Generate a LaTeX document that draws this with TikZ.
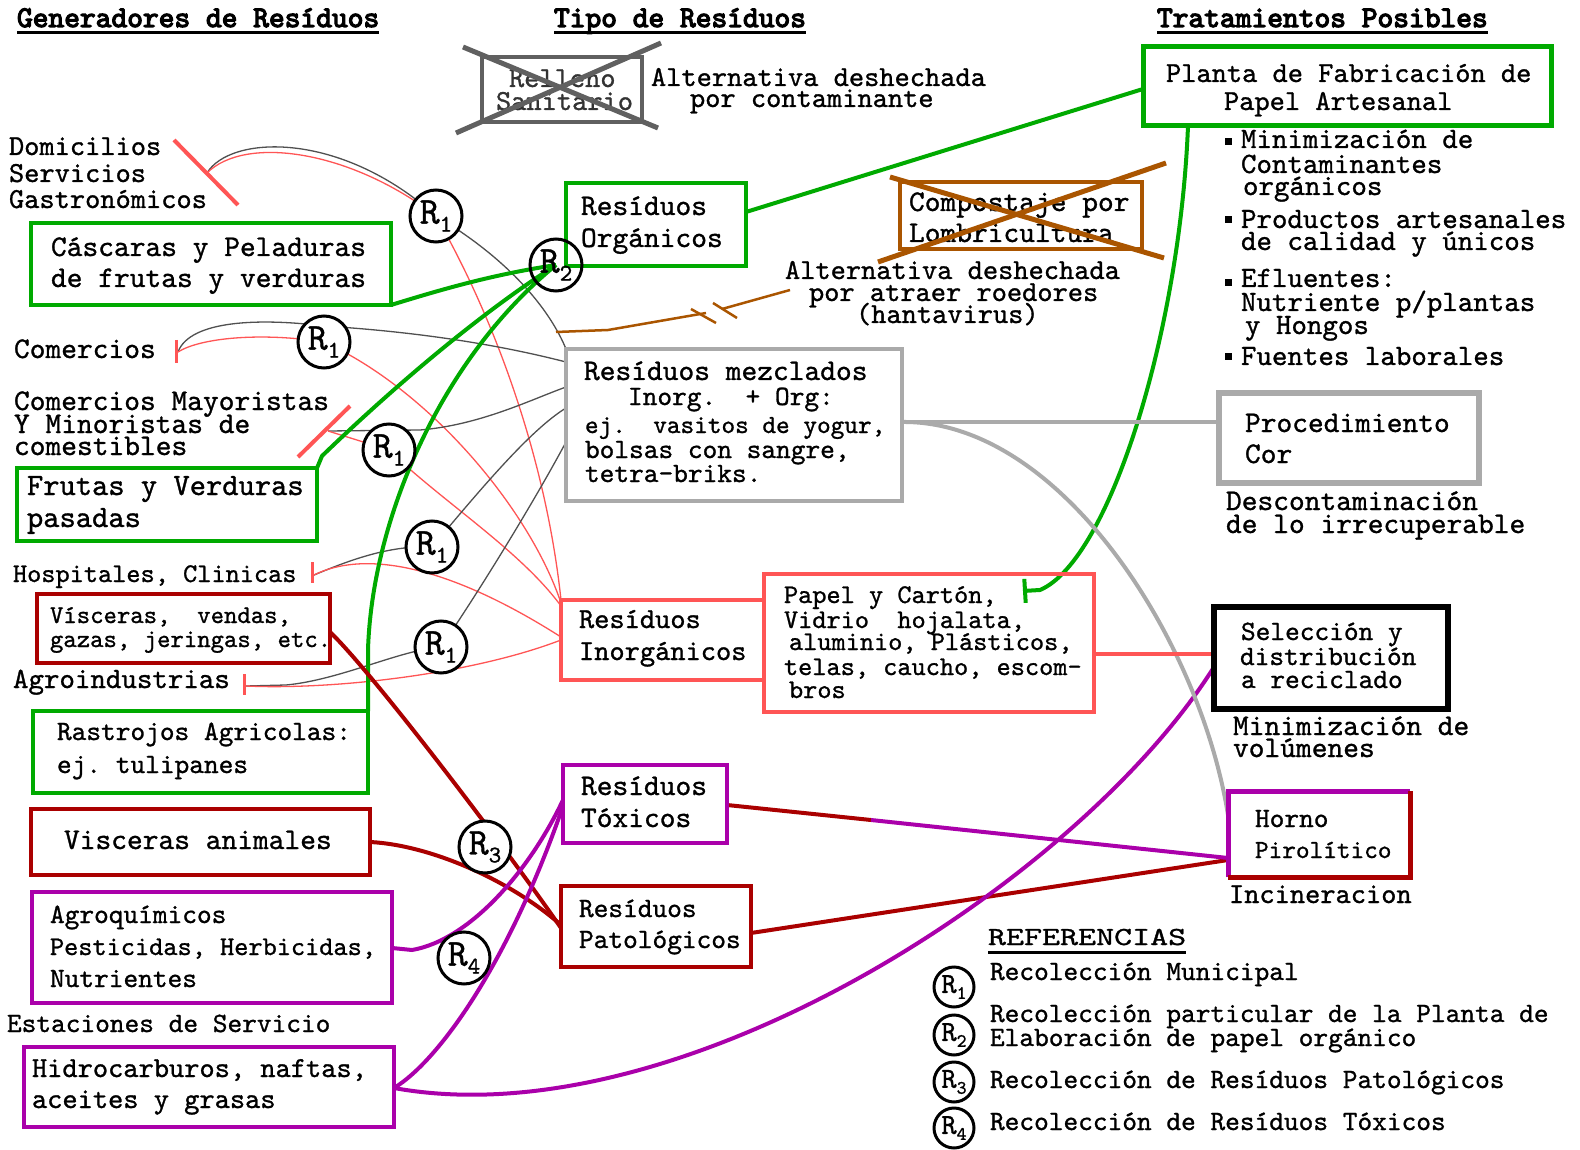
\documentclass[tikz,border=0pt]{standalone}
\usepackage{fontspec}
\newfontfamily\tx{lmmono10-regular.otf}[FakeBold=1]
\newfontfamily\tb{lmmono10-regular.otf}[FakeBold=4]
\usetikzlibrary{arrows.meta}
\pgfdeclarelayer{back}
\pgfdeclarelayer{lines}
\pgfsetlayers{back,lines,main}
\frenchspacing
\definecolor{grn}{HTML}{00AA00}
\definecolor{dred}{HTML}{AA0000}
\definecolor{lred}{HTML}{FF5555}
\definecolor{pur}{HTML}{AA00AA}
\definecolor{lgr}{HTML}{AAAAAA}
\definecolor{dgr}{HTML}{606060}
\definecolor{mgr}{HTML}{505050}
\definecolor{brn}{HTML}{AA5500}
\newcommand\fs[1]{\fontsize{#1}{#1}\selectfont}
\newcommand\T[5][29]{\node[txt,font=\tx\fs{#1}] (#2) at (#3,#4) {#5};}
\newcommand\Bx[6]{\node[bx,#1,minimum width={(#5-#3)*1pt},minimum height={(#6-#4)*1pt}] (#2) at ({(#3+#5)/2},{(#4+#6)/2}) {};}
\newcommand\Rl[1]{R\raisebox{-8pt}{\fs{24}#1}}
\newcommand\Rs[1]{R\raisebox{-6pt}{\fs{19}#1}}

\begin{document}
\begin{tikzpicture}[x=1pt,y=-1pt,
  txt/.style={anchor=base west,inner sep=0pt,outer sep=0pt},
  bx/.style={rectangle,inner sep=0pt,outer sep=0pt,line width=4pt},
  gline/.style={draw=grn,line width=4pt},
  dline/.style={draw=dred,line width=4pt},
  pline/.style={draw=pur,line width=4pt},
  lgline/.style={draw=lgr,line width=4pt},
  lrline/.style={draw=lred,line width=4pt},
  mline/.style={draw=mgr,line width=1.3pt},
  rline/.style={draw=lred,line width=1.3pt},
  bline/.style={draw=brn,line width=2.5pt},
  slashst/.style={draw=lred,line width=4pt},
  rc/.style={circle,draw=black,line width=3pt,fill=white,minimum size=52pt,inner sep=0pt,font=\tx\fs{38}},
  lc/.style={circle,draw=black,line width=3pt,fill=white,minimum size=40pt,inner sep=0pt,font=\tx\fs{29}},
]
\begin{pgfonlayer}{back}
\fill[white] (0,0) rectangle (1580,1150);
\end{pgfonlayer}
\useasboundingbox (0,0) rectangle (1580,1150);

% ---------- boxes ----------
\Bx{draw=dgr}{rell}{482}{57}{642}{122}
\Bx{draw=grn,line width=5pt}{plan}{1143}{47}{1551}{126}
\Bx{draw=brn}{comp}{900}{182}{1142}{249}
\Bx{draw=grn}{org}{566}{183}{746}{266}
\Bx{draw=grn}{casc}{31}{223}{391}{305}
\Bx{draw=grn}{frut}{17}{468}{317}{541}
\Bx{draw=dred}{visc}{37}{594}{330}{663}
\Bx{draw=grn}{rast}{33}{711}{368}{793}
\Bx{draw=dred}{vana}{31}{809}{370}{875}
\Bx{draw=pur}{agq}{32}{892}{392}{1003}
\Bx{draw=pur}{hid}{24}{1047}{394}{1127}
\Bx{draw=lgr}{mez}{566}{349}{902}{501}
\Bx{draw=lgr,line width=6pt}{proc}{1219}{393}{1479}{483}
\Bx{draw=lred}{inor}{561}{600}{764}{680}
\Bx{draw=lred}{pap}{764}{574}{1094}{712}
\Bx{draw=black,line width=6pt}{sel}{1214}{607}{1448}{709}
\Bx{draw=pur}{tox}{563}{765}{727}{843}
\Bx{draw=dred}{pat}{561}{886}{751}{967}
\Bx{}{horn}{1228}{791}{1410}{877}
\draw[pur,line width=5pt] (horn.south west) -- (horn.north west) -- (horn.north east);
\draw[dred,line width=5pt] (horn.north east) -- (horn.south east) -- (horn.south west);

% ---------- circles ----------
\node[rc] (r1a) at (436,216) {\Rl{1}};
\node[rc] (r1b) at (324,342) {\Rl{1}};
\node[rc] (r1c) at (389,450) {\Rl{1}};
\node[rc] (r1d) at (432,547) {\Rl{1}};
\node[rc] (r1e) at (441,647) {\Rl{1}};
\node[rc,fill=none] (r2) at (556,265) {\Rl{2}};
\node[rc] (r3) at (485,847) {\Rl{3}};
\node[rc] (r4) at (464,958) {\Rl{4}};
\node[lc] (l1) at (954,987) {\Rs{1}};
\node[lc] (l2) at (954,1035) {\Rs{2}};
\node[lc] (l3) at (954,1082) {\Rs{3}};
\node[lc] (l4) at (954,1128) {\Rs{4}};

% ---------- free ends ----------
\coordinate (sDom) at (207,173);
\coordinate (bCom) at (178,352);
\coordinate (sCM) at (328,431);
\coordinate (bHos) at (314,575);
\coordinate (bAgr) at (246,686);
\coordinate (brS) at (556,332);
\coordinate (brE) at (790,290);
\coordinate (gEnd) at (1023,591);

\begin{pgfonlayer}{lines}
% municipal collection (thin)
\draw[mline] (sDom) .. controls (230,135) and (340,130) .. (r1a.center) .. controls (510,260) and (550,310) .. (mez.north west);
\draw[rline] (sDom) .. controls (245,135) and (350,150) .. (r1a.center) .. controls (490,310) and (545,450) .. (inor.north west);
\draw[mline] (bCom) .. controls (190,320) and (260,318) .. (324,326) .. controls (420,332) and (500,345) .. (mez.west |- 0,362);
\draw[rline] (bCom) .. controls (200,338) and (260,332) .. (r1b.center) .. controls (430,390) and (530,510) .. (inor.west |- 0,603);
\draw[mline] (sCM) -- (420,430) .. controls (480,425) and (530,400) .. (mez.west |- 0,387);
\draw[rline] (sCM) -- (r1c.center) .. controls (440,500) and (520,550) .. (inor.west |- 0,606);
\draw[mline] (bHos) .. controls (350,560) and (390,545) .. (r1d.center) .. controls (480,490) and (530,430) .. (mez.west |- 0,408);
\draw[rline] (bHos) .. controls (360,552) and (440,560) .. (inor.west |- 0,637);
\draw[mline] (bAgr) -- (286,685) .. controls (340,680) and (400,650) .. (r1e.center) .. controls (480,590) and (535,500) .. (mez.west |- 0,442);
\draw[rline] (bAgr) .. controls (330,690) and (470,675) .. (inor.west |- 0,640);
% brown rejected link
\draw[bline] (brS) -- (608,330) -- (706,313);
\draw[bline] (722,309) -- (brE);
\draw[bline] (691,309) -- (716,323);
\draw[bline] (713,303) -- (737,318);
% green
\draw[gline] (casc.south east) .. controls (440,290) and (490,275) .. (r2.center);
\draw[gline] (org.east |- 0,212) -- (plan.west |- 0,89);
\draw[gline] (frut.north east) -- (322,456) .. controls (380,400) and (470,320) .. (r2.center);
\draw[gline] (rast.north east) -- (368,650) .. controls (372,520) and (440,360) .. (r2.center);
\draw[gline,-{Bar[width=24pt]}] (1188,0 |- plan.south) .. controls (1180,330) and (1110,560) .. (1040,590) -- (gEnd);
% dark red
\draw[dline] (visc.east |- 0,632) .. controls (370,670) and (500,840) .. (pat.west |- 0,928);
\draw[dline] (vana.east |- 0,842) .. controls (430,845) and (510,880) .. (pat.west |- 0,925);
\draw[dline] (pat.east |- 0,933) -- (horn.west |- 0,860);
\draw[dline] (tox.east |- 0,805) -- (871,820);
% purple
\draw[pline] (871,820) -- (horn.west |- 0,858);
\draw[pline] (agq.east |- 0,948) -- (412,950) .. controls (470,940) and (530,870) .. (tox.west |- 0,800);
\draw[pline] (hid.east |- 0,1088) .. controls (440,1060) and (510,960) .. (tox.west |- 0,806);
\draw[pline] (hid.east |- 0,1088) .. controls (680,1140) and (1080,880) .. (sel.west |- 0,667);
% gray
\draw[lgline] (mez.east |- 0,422) -- (proc.west |- 0,422);
\draw[lgline] (mez.east |- 0,422) .. controls (1060,420) and (1200,640) .. (horn.west |- 0,815);
% light red
\draw[lrline] (pap.east |- 0,654) -- (sel.west |- 0,654);
\end{pgfonlayer}

% slashes / bars at generators
\draw[slashst] (174,140) -- (238,205);
\draw[draw=lred,line width=3pt] (176,340) -- (176,363);
\draw[slashst] (298,457) -- (350,406);
\draw[draw=lred,line width=3pt] (312,562) -- (312,583);
\draw[draw=lred,line width=3pt] (244,674) -- (244,695);

% ---------- titles ----------
\node[txt,font=\tb\fs{30}] (tg) at (17,27) {Generadores de Resíduos};
\node[txt,font=\tb\fs{30}] (tt) at (554,27) {Tipo de Resíduos};
\node[txt,font=\tb\fs{30}] (tp) at (1157,27) {Tratamientos Posibles};
\foreach \n in {tg,tt,tp} \draw[line width=3pt] ([yshift=-6pt]\n.base west) -- ([yshift=-6pt]\n.base east);

% ---------- texts ----------
\T{rel1}{509}{87}{\textcolor{black!80}{Relleno}}
\T{rel2}{496}{110}{\textcolor{black!80}{Sanitario}}
\T[29]{alt1a}{651}{86}{Alternativa deshechada}
\T[29]{alt1b}{690}{107}{por contaminante}
\T{pl1}{1166}{82}{Planta de Fabricación de}
\T{pl2}{1224}{110}{Papel Artesanal}
\T[29.5]{b1}{1241}{148}{Minimización de}
\T[29.5]{b2}{1241}{173}{Contaminantes}
\T[29.5]{b3}{1243}{195}{orgánicos}
\T[29.5]{b4}{1241}{228}{Productos artesanales}
\T[29.5]{b5}{1241}{250}{de calidad y únicos}
\T[29.5]{b6}{1241}{287}{Efluentes:}
\T[29.5]{b7}{1241}{311}{Nutriente p/plantas}
\T[29.5]{b8}{1245}{334}{y Hongos}
\T[29.5]{b9}{1241}{365}{Fuentes laborales}
\foreach \yy in {142,220,283,357} \fill (1224.5,\yy-3.5) rectangle +(7,7);
\T[30]{cp1}{909}{211}{Compostaje por}
\T[30]{cp2}{909}{242}{Lombricultura}
\T[29]{alt2a}{785}{279}{Alternativa deshechada}
\T[29]{alt2b}{809}{301}{por atraer roedores}
\T[29]{alt2c}{856}{323}{(hantavirus)}
\T[30]{og1}{581}{215}{Resíduos}
\T[30]{og2}{581}{247}{Orgánicos}
\T{dom1}{9}{155}{Domicilios}
\T{dom2}{9}{182}{Servicios}
\T{dom3}{9}{208}{Gastronómicos}
\T[30]{cas1}{51}{256}{Cáscaras y Peladuras}
\T[30]{cas2}{51}{287}{de frutas y verduras}
\T[30]{com}{14}{358}{Comercios}
\T[30]{cm1}{14}{410}{Comercios Mayoristas}
\T[30]{cm2}{14}{433}{Y Minoristas de}
\T[30]{cm3}{14}{455}{comestibles}
\T[31]{fr1}{27}{495}{Frutas y Verduras}
\T[31]{fr2}{27}{527}{pasadas}
\T[27]{hos}{13}{582}{Hospitales, Clinicas}
\T[25.5]{vi1}{50}{623}{Vísceras,\ \ vendas,}
\T[25.5]{vi2}{50}{647}{gazas, jeringas, etc.}
\T[29.5]{agr}{13}{688}{Agroindustrias}
\T[28]{ra1}{57}{740}{Rastrojos Agricolas:}
\T[28]{ra2}{57}{773}{ej. tulipanes}
\T[30]{va}{64}{849}{Visceras animales}
\T[28]{aq1}{50}{923}{Agroquímicos}
\T[27]{aq2}{50}{955}{Pesticidas, Herbicidas,}
\T[28]{aq3}{50}{987}{Nutrientes}
\T[28]{est}{7}{1032}{Estaciones de Servicio}
\T{hi1}{32}{1077}{Hidrocarburos, naftas,}
\T{hi2}{32}{1108}{aceites y grasas}
\T[30]{mz1}{584}{380}{Resíduos mezclados}
\T[28]{mz2}{628}{405}{Inorg.\ \ + Org:}
\T[26]{mz3}{585}{433}{ej.\ \ vasitos de yogur,}
\T[28]{mz4}{585}{458}{bolsas con sangre,}
\T[28]{mz5}{585}{482}{tetra-briks.}
\T[30]{pr1}{1245}{432}{Procedimiento}
\T[30]{pr2}{1245}{463}{Cor}
\T[30]{dc1}{1226}{510}{Descontaminación}
\T[30]{dc2}{1226}{533}{de lo irrecuperable}
\T{in1}{579}{628}{Resíduos}
\T{in2}{579}{660}{Inorgánicos}
\T[27]{pa1}{784}{603}{Papel y Cartón,}
\T[27]{pa2}{784}{628}{Vidrio\ \ hojalata,}
\T[27]{pa3}{789}{650}{aluminio, Plásticos,}
\T[27]{pa4}{784}{675}{telas, caucho, escom–}
\T[27]{pa5}{789}{698}{bros}
\T[28]{se1}{1241}{640}{Selección y}
\T[28]{se2}{1240}{665}{distribución}
\T[28]{se3}{1241}{688}{a reciclado}
\T[30]{mi1}{1233}{735}{Minimización de}
\T[30]{mi2}{1233}{757}{volúmenes}
\T[30]{tx1}{581}{795}{Resíduos}
\T[30]{tx2}{581}{827}{Tóxicos}
\T[28]{pt1}{579}{917}{Resíduos}
\T[28]{pt2}{579}{948}{Patológicos}
\T[28]{ho1}{1255}{827}{Horno}
\T[26]{ho2}{1255}{858}{Pirolítico}
\T{inc}{1229}{903}{Incineracion}
\T[26]{refs}{988}{945}{\scalebox{1.32}[1]{REFERENCIAS}}
\draw[line width=3pt] ([yshift=-7pt]refs.base west) -- ([yshift=-7pt]refs.base east);
\T[28]{lg1}{990}{980}{Recolección Municipal}
\T[28]{lg2}{990}{1022}{Recolección particular de la Planta de}
\T[28]{lg3}{990}{1046}{Elaboración de papel orgánico}
\T[28]{lg4}{990}{1088}{Recolección de Resíduos Patológicos}
\T[28]{lg5}{990}{1130}{Recolección de Resíduos Tóxicos}

% ---------- crossed-out alternatives ----------
\draw[dgr,line width=5pt] (463,47) -- (658,128);
\draw[dgr,line width=5pt] (456,133) -- (661,43);
\draw[brn,line width=5pt] (890,177) -- (1164,258);
\draw[brn,line width=5pt] (878,262) -- (1166,163);
\end{tikzpicture}
\end{document}
